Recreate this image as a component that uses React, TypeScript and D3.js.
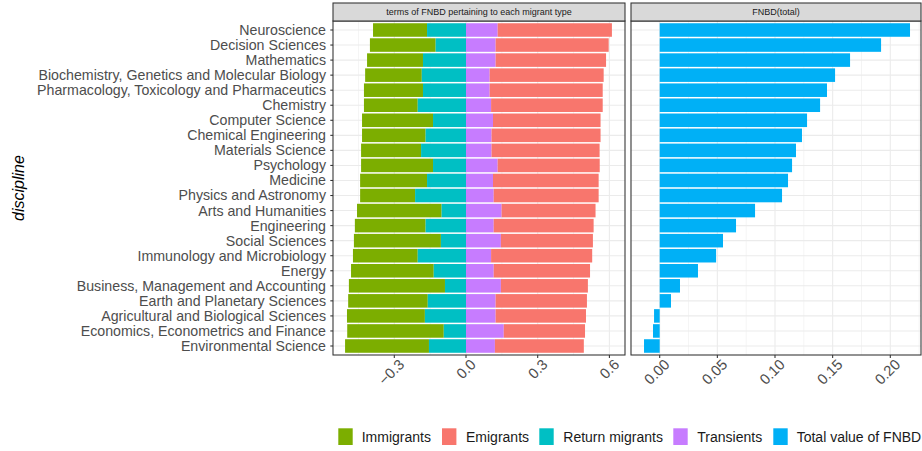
import React from "react";
import * as d3 from "d3";

const disciplines = [
  "Neuroscience",
  "Decision Sciences",
  "Mathematics",
  "Biochemistry, Genetics and Molecular Biology",
  "Pharmacology, Toxicology and Pharmaceutics",
  "Chemistry",
  "Computer Science",
  "Chemical Engineering",
  "Materials Science",
  "Psychology",
  "Medicine",
  "Physics and Astronomy",
  "Arts and Humanities",
  "Engineering",
  "Social Sciences",
  "Immunology and Microbiology",
  "Energy",
  "Business, Management and Accounting",
  "Earth and Planetary Sciences",
  "Agricultural and Biological Sciences",
  "Economics, Econometrics and Finance",
  "Environmental Science",
];

// negative terms (drawn to the left of zero)
const immigrants = [
  -0.226, -0.275, -0.234, -0.237, -0.247, -0.225, -0.297, -0.266, -0.251, -0.301, -0.28,
  -0.23, -0.354, -0.296, -0.364, -0.271, -0.346, -0.402, -0.333, -0.326, -0.404, -0.351,
];
const returnMigrants = [
  -0.163, -0.127, -0.18, -0.185, -0.18, -0.202, -0.138, -0.169, -0.188, -0.138, -0.163,
  -0.213, -0.102, -0.169, -0.105, -0.202, -0.135, -0.088, -0.16, -0.172, -0.093, -0.155,
];
// positive terms
const transients = [
  0.1325, 0.124, 0.124, 0.099, 0.099, 0.105, 0.113, 0.107, 0.107, 0.1325, 0.113,
  0.116, 0.149, 0.116, 0.146, 0.105, 0.116, 0.146, 0.124, 0.124, 0.158, 0.121,
];
const emigrants = [
  0.478, 0.473, 0.462, 0.477, 0.473, 0.467, 0.45, 0.456, 0.452, 0.427, 0.442,
  0.439, 0.393, 0.418, 0.385, 0.423, 0.403, 0.364, 0.382, 0.378, 0.34, 0.372,
];
const totalFNBD = [
  0.2171, 0.192, 0.1651, 0.1521, 0.1451, 0.1391, 0.1278, 0.1234, 0.1182, 0.1148, 0.1113,
  0.1061, 0.0827, 0.0662, 0.0549, 0.0489, 0.0332, 0.0176, 0.0098, -0.0049, -0.0058, -0.0136,
];

const leftTicks = [-0.3, 0.0, 0.3, 0.6];
const leftMinor = [-0.45, -0.15, 0.15, 0.45];
const rightTicks = [0.0, 0.05, 0.1, 0.15, 0.2];
const rightMinor = [-0.025, 0.025, 0.075, 0.125, 0.175, 0.225];

const seriesNames = ["Immigrants", "Emigrants", "Return migrants", "Transients", "Total value of FNBD"];
const seriesColors = ["#7CAE00", "#F8766D", "#00BFC4", "#C77CFF", "#00B0F6"];

const FONT = "'Liberation Sans', Arial, Helvetica, sans-serif";

export default function App() {
  const W = 922;
  const H = 451;
  const panelTop = 21;
  const panelBottom = 355;
  const stripTop = 3;
  const L = { x0: 333, x1: 625 };
  const R = { x0: 631, x1: 921 };

  const xL = d3.scaleLinear().domain([-133 / 239, 159 / 239]).range([L.x0, L.x1]);
  const xR = d3.scaleLinear().domain([-28.7 / 1153, 261.3 / 1153]).range([R.x0, R.x1]);
  const y = d3.scalePoint<string>().domain(disciplines).range([30, 346]);
  const step = y.step();
  const bh = step * 0.9;

  const rows = disciplines.map((d, i) => ({
    d,
    imm: immigrants[i],
    ret: returnMigrants[i],
    tra: transients[i],
    emi: emigrants[i],
    tot: totalFNBD[i],
  }));

  const fmtL = d3.format(".1f");
  const fmtR = d3.format(".2f");

  const legendItems = [
    { keyX: 338.3, textX: 361.7 },
    { keyX: 442, textX: 466 },
    { keyX: 539.3, textX: 563.3 },
    { keyX: 673.3, textX: 697.3 },
    { keyX: 773.3, textX: 796.7 },
  ];

  const stripH = panelTop - stripTop;

  return (
    <div style={{ position: "absolute", left: 0, top: 0 }}>
      <svg width={W} height={H} style={{ display: "block", fontFamily: FONT }}>
        <rect x={0} y={0} width={W} height={H} fill="#ffffff" />

        {/* Left panel background & grid */}
        <rect x={L.x0} y={panelTop} width={L.x1 - L.x0} height={panelBottom - panelTop} fill="#fff" />
        {leftMinor.map((v) => (
          <line key={"lm" + v} x1={xL(v)} x2={xL(v)} y1={panelTop} y2={panelBottom} stroke="#ebebeb" strokeWidth={0.55} />
        ))}
        {leftTicks.map((v) => (
          <line key={"lM" + v} x1={xL(v)} x2={xL(v)} y1={panelTop} y2={panelBottom} stroke="#ebebeb" strokeWidth={1.1} />
        ))}
        {disciplines.map((d) => (
          <line key={"lh" + d} x1={L.x0} x2={L.x1} y1={y(d)} y2={y(d)} stroke="#ebebeb" strokeWidth={1.1} />
        ))}

        {/* Right panel background & grid */}
        <rect x={R.x0} y={panelTop} width={R.x1 - R.x0} height={panelBottom - panelTop} fill="#fff" />
        {rightMinor.map((v) => (
          <line key={"rm" + v} x1={xR(v)} x2={xR(v)} y1={panelTop} y2={panelBottom} stroke="#ebebeb" strokeWidth={0.55} />
        ))}
        {rightTicks.map((v) => (
          <line key={"rM" + v} x1={xR(v)} x2={xR(v)} y1={panelTop} y2={panelBottom} stroke="#ebebeb" strokeWidth={1.1} />
        ))}
        {disciplines.map((d) => (
          <line key={"rh" + d} x1={R.x0} x2={R.x1} y1={y(d)} y2={y(d)} stroke="#ebebeb" strokeWidth={1.1} />
        ))}

        {/* Left stacked bars */}
        {rows.map((r) => {
          const yc = y(r.d)!;
          const top = yc - bh / 2;
          const a0 = 0;
          const a1 = r.ret;
          const a2 = r.ret + r.imm;
          const b1 = r.tra;
          const b2 = r.tra + r.emi;
          return (
            <g key={"bar" + r.d}>
              <rect x={xL(a2)} y={top} width={xL(a1) - xL(a2)} height={bh} fill={seriesColors[0]} />
              <rect x={xL(a1)} y={top} width={xL(a0) - xL(a1)} height={bh} fill={seriesColors[2]} />
              <rect x={xL(0)} y={top} width={xL(b1) - xL(0)} height={bh} fill={seriesColors[3]} />
              <rect x={xL(b1)} y={top} width={xL(b2) - xL(b1)} height={bh} fill={seriesColors[1]} />
            </g>
          );
        })}

        {/* Right bars */}
        {rows.map((r) => {
          const yc = y(r.d)!;
          const x0 = Math.min(xR(0), xR(r.tot));
          const w = Math.abs(xR(r.tot) - xR(0));
          return <rect key={"tot" + r.d} x={x0} y={yc - bh / 2} width={w} height={bh} fill={seriesColors[4]} />;
        })}

        {/* Panel borders */}
        <rect x={L.x0} y={panelTop} width={L.x1 - L.x0} height={panelBottom - panelTop} fill="none" stroke="#333333" strokeWidth={1.07} />
        <rect x={R.x0} y={panelTop} width={R.x1 - R.x0} height={panelBottom - panelTop} fill="none" stroke="#333333" strokeWidth={1.07} />

        {/* Strips */}
        <rect x={L.x0} y={stripTop} width={L.x1 - L.x0} height={stripH} fill="#d9d9d9" stroke="#333333" strokeWidth={1.07} />
        <rect x={R.x0} y={stripTop} width={R.x1 - R.x0} height={stripH} fill="#d9d9d9" stroke="#333333" strokeWidth={1.07} />
        <text x={(L.x0 + L.x1) / 2} y={stripTop + stripH / 2} dy="0.35em" textAnchor="middle" fontSize={9} fill="#1a1a1a">
          terms of FNBD pertaining to each migrant type
        </text>
        <text x={(R.x0 + R.x1) / 2} y={stripTop + stripH / 2} dy="0.35em" textAnchor="middle" fontSize={9} fill="#1a1a1a">
          FNBD(total)
        </text>

        {/* Y axis */}
        {disciplines.map((d) => (
          <g key={"yt" + d}>
            <line x1={330.3} x2={L.x0} y1={y(d)} y2={y(d)} stroke="#333333" strokeWidth={1.07} />
            <text x={326} y={y(d)} dy="0.35em" textAnchor="end" fontSize={14.2} fill="#4d4d4d">
              {d}
            </text>
          </g>
        ))}
        <text
          transform={`translate(24, ${(panelTop + panelBottom) / 2}) rotate(-90)`}
          textAnchor="middle"
          fontSize={16}
          fontStyle="italic"
          fill="#000"
        >
          discipline
        </text>

        {/* X axes */}
        {leftTicks.map((v) => (
          <g key={"xl" + v}>
            <line x1={xL(v)} x2={xL(v)} y1={panelBottom} y2={panelBottom + 3} stroke="#333333" strokeWidth={1.07} />
            <text
              transform={`translate(${xL(v) + 3.5}, ${panelBottom + 3}) rotate(-45)`}
              textAnchor="end"
              dy="0.71em"
              fontSize={14.7}
              fill="#4d4d4d"
            >
              {fmtL(v)}
            </text>
          </g>
        ))}
        {rightTicks.map((v) => (
          <g key={"xr" + v}>
            <line x1={xR(v)} x2={xR(v)} y1={panelBottom} y2={panelBottom + 3} stroke="#333333" strokeWidth={1.07} />
            <text
              transform={`translate(${xR(v) + 3.5}, ${panelBottom + 3}) rotate(-45)`}
              textAnchor="end"
              dy="0.71em"
              fontSize={14.7}
              fill="#4d4d4d"
            >
              {fmtR(v)}
            </text>
          </g>
        ))}

        {/* Legend */}
        {seriesNames.map((n, i) => (
          <g key={"lg" + n}>
            <rect x={legendItems[i].keyX} y={428.3} width={14.4} height={16.7} fill={seriesColors[i]} />
            <text x={legendItems[i].textX} y={436.7} dy="0.35em" fontSize={14} fill="#1a1a1a">
              {n}
            </text>
          </g>
        ))}
      </svg>
    </div>
  );
}
